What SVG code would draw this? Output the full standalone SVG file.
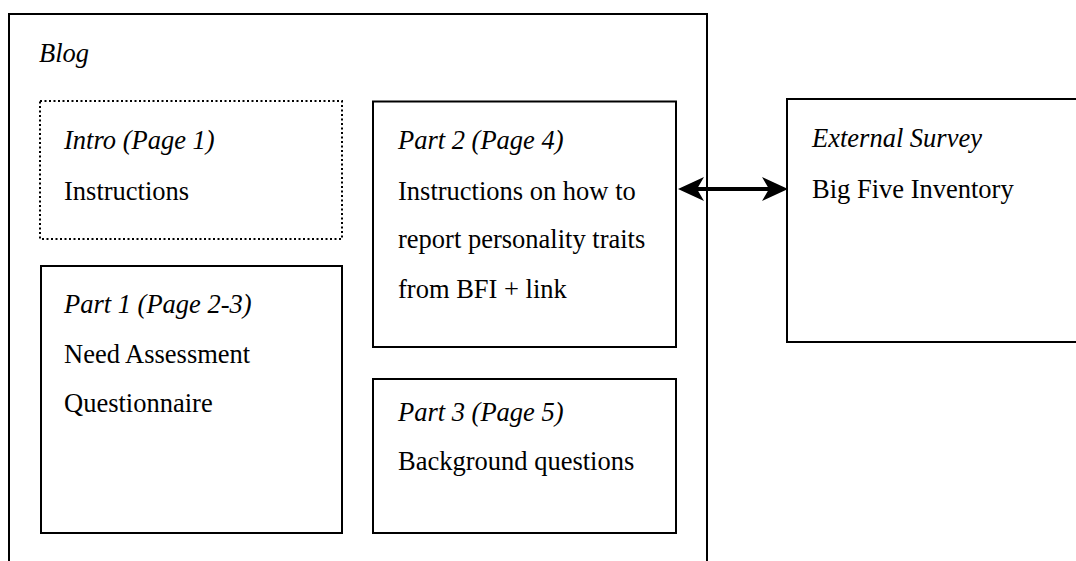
<svg xmlns="http://www.w3.org/2000/svg" width="1076" height="561" viewBox="0 0 1076 561">
  <style>
    .box { fill: #ffffff; stroke: #000000; stroke-width: 2; }
    .dotted { fill: none; stroke: #000000; stroke-width: 2; stroke-dasharray: 2 2.5; }
    .t { font-family: "Liberation Serif", "Times New Roman", serif; font-size: 26.5px; fill: #000000; }
    .i { font-style: italic; }
    .conn { stroke: #000000; stroke-width: 4; fill: none; }
  </style>
  <defs>
    <marker id="head" viewBox="0 0 26 24" markerWidth="26" markerHeight="24" markerUnits="userSpaceOnUse" refX="20" refY="12" orient="auto-start-reverse">
      <path d="M0,0 L26,12 L0,24 L7,12 Z" fill="#000000"/>
    </marker>
  </defs>
  <rect width="1076" height="561" fill="#ffffff"/>

  <g id="blog">
    <path d="M9,600 V14 H707 V600" class="box" fill="none" style="fill:none"/>
    <text class="t i" x="39" y="62">Blog</text>
  </g>

  <g id="intro">
    <rect class="dotted" x="40" y="101" width="302" height="138"/>
    <text class="t i" x="64" y="149">Intro (Page 1)</text>
    <text class="t" x="64" y="200">Instructions</text>
  </g>

  <g id="part1">
    <rect class="box" x="41" y="266" width="301" height="267"/>
    <text class="t i" x="64" y="313">Part 1 (Page 2-3)</text>
    <text class="t" x="64" y="363">Need Assessment</text>
    <text class="t" x="64" y="412">Questionnaire</text>
  </g>

  <g id="part2">
    <rect class="box" x="373" y="101.5" width="303" height="245.5"/>
    <text class="t i" x="398" y="149">Part 2 (Page 4)</text>
    <text class="t" x="398" y="200">Instructions on how to</text>
    <text class="t" x="398" y="248">report personality traits</text>
    <text class="t" x="398" y="298">from BFI + link</text>
  </g>

  <g id="part3">
    <rect class="box" x="373" y="379" width="303" height="154"/>
    <text class="t i" x="398" y="421">Part 3 (Page 5)</text>
    <text class="t" x="398" y="470">Background questions</text>
  </g>

  <g id="external">
    <rect class="box" x="787" y="99" width="300" height="243"/>
    <text class="t i" x="812" y="147">External Survey</text>
    <text class="t" x="812" y="198">Big Five Inventory</text>
  </g>

  <g id="connectors">
    <line class="conn" x1="684" y1="189" x2="782" y2="189" marker-start="url(#head)" marker-end="url(#head)"/>
  </g>
</svg>
